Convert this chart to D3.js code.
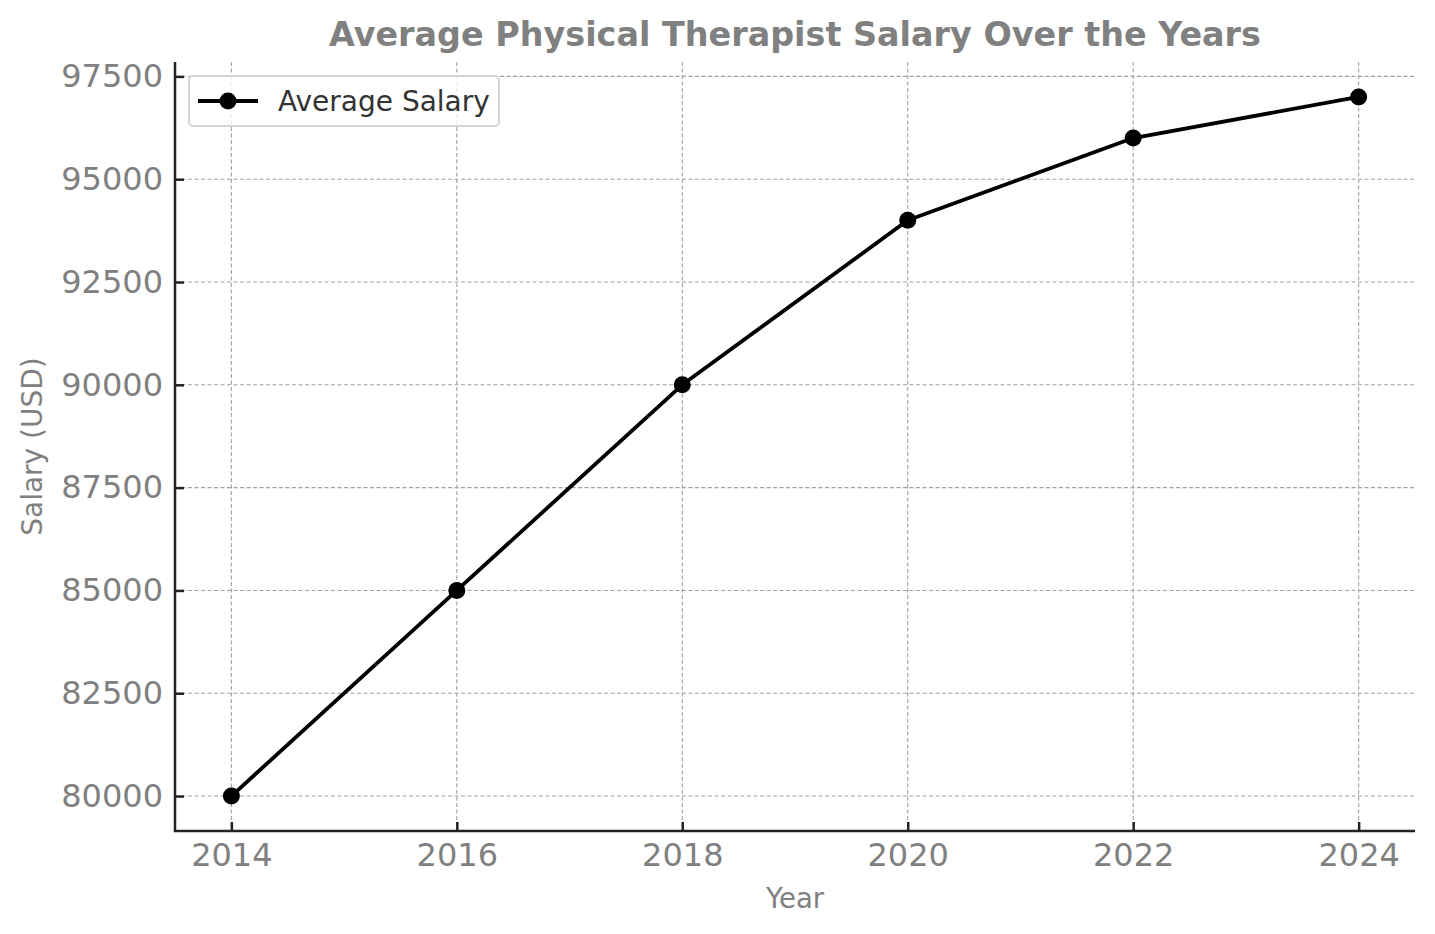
<!DOCTYPE html>
<html>
<head>
<meta charset="utf-8">
<script src="https://cdn.jsdelivr.net/npm/d3@7"></script>
<style>
  body { margin: 0; background: #fff; }
  svg { font-family: "DejaVu Sans", sans-serif; }
</style>
</head>
<body>
<div id="chart"></div>
<script>
// data
const years = [2014, 2016, 2018, 2020, 2022, 2024];
const salaries = [80000, 85000, 90000, 94000, 96000, 97000];
const yTicks = [80000, 82500, 85000, 87500, 90000, 92500, 95000, 97500];
const seriesName = "Average Salary";

const W = 1435, H = 934;
const margin = {top: 62, right: 20, bottom: 103, left: 175};
const width = W - margin.left - margin.right,
      height = H - margin.top - margin.bottom;

const svg = d3.select("#chart").append("svg")
    .attr("width", W)
    .attr("height", H);

const g = svg.append("g")
    .attr("transform", "translate(" + margin.left + "," + margin.top + ")");

// matplotlib style 5% margins
const x = d3.scaleLinear().domain([2013.5, 2024.5]).range([0, width]);
const y = d3.scaleLinear().domain([79150, 97850]).range([height, 0]);

// grid
g.append("g").selectAll("line")
    .data(years).enter().append("line")
    .attr("x1", d => x(d)).attr("x2", d => x(d))
    .attr("y1", 0).attr("y2", height)
    .attr("stroke", "#a0a0a0").attr("stroke-width", 1.1)
    .attr("stroke-dasharray", "4,2.5");

g.append("g").selectAll("line")
    .data(yTicks).enter().append("line")
    .attr("y1", d => y(d)).attr("y2", d => y(d))
    .attr("x1", 0).attr("x2", width)
    .attr("stroke", "#a0a0a0").attr("stroke-width", 1.1)
    .attr("stroke-dasharray", "4,2.5");

// axes with inward ticks
const xAxis = g.append("g")
    .attr("transform", "translate(0," + height + ")")
    .call(d3.axisBottom(x).tickValues(years).tickFormat(d3.format("d")).tickSize(-9).tickPadding(12));

const yAxis = g.append("g")
    .call(d3.axisLeft(y).tickValues(yTicks).tickFormat(d3.format("d")).tickSize(-9).tickPadding(12));

[xAxis, yAxis].forEach(function(a) {
    a.select(".domain").remove();
    a.selectAll(".tick line").attr("stroke", "#222").attr("stroke-width", 2.5);
    a.selectAll(".tick text")
        .attr("fill", "#808080")
        .style("font-size", "32px")
        .style("font-family", "DejaVu Sans");
});
xAxis.selectAll(".tick text").attr("dy", "0.71em");

// spines: left and bottom only
g.append("line")
    .attr("x1", 0).attr("x2", 0).attr("y1", 0).attr("y2", height)
    .attr("stroke", "#222").attr("stroke-width", 2.5);
g.append("line")
    .attr("x1", -1.25).attr("x2", width).attr("y1", height).attr("y2", height)
    .attr("stroke", "#222").attr("stroke-width", 2.5);

// the line
const line = d3.line()
    .x((d, i) => x(years[i]))
    .y(d => y(d));

g.append("path")
    .datum(salaries)
    .attr("d", line)
    .attr("fill", "none")
    .attr("stroke", "#000")
    .attr("stroke-width", 3.8)
    .attr("stroke-linejoin", "round");

g.selectAll(".dot")
    .data(salaries).enter().append("circle")
    .attr("class", "dot")
    .attr("cx", (d, i) => x(years[i]))
    .attr("cy", d => y(d))
    .attr("r", 8.5)
    .attr("fill", "#000");

// title and axis labels
svg.append("text")
    .attr("x", margin.left + width / 2)
    .attr("y", 46)
    .attr("text-anchor", "middle")
    .attr("fill", "#808080")
    .style("font-size", "33.4px")
    .style("font-weight", "bold")
    .text("Average Physical Therapist Salary Over the Years");

svg.append("text")
    .attr("x", margin.left + width / 2)
    .attr("y", 908)
    .attr("text-anchor", "middle")
    .attr("fill", "#808080")
    .style("font-size", "27.5px")
    .text("Year");

svg.append("text")
    .attr("transform", "translate(42," + (margin.top + height / 2) + ") rotate(-90)")
    .attr("text-anchor", "middle")
    .attr("fill", "#808080")
    .style("font-size", "28px")
    .text("Salary (USD)");

// legend
const legend = svg.append("g").attr("transform", "translate(189,76)");
legend.append("rect")
    .attr("width", 310).attr("height", 50)
    .attr("rx", 4).attr("ry", 4)
    .attr("fill", "#fff").attr("fill-opacity", 0.8)
    .attr("stroke", "#d5d5d5").attr("stroke-width", 2);
legend.append("line")
    .attr("x1", 9).attr("x2", 69).attr("y1", 25).attr("y2", 25)
    .attr("stroke", "#000").attr("stroke-width", 3.8);
legend.append("circle")
    .attr("cx", 39).attr("cy", 25).attr("r", 8.5).attr("fill", "#000");
legend.append("text")
    .attr("x", 89).attr("y", 35)
    .attr("fill", "#333")
    .style("font-size", "28px")
    .text(seriesName);
</script>
</body>
</html>
